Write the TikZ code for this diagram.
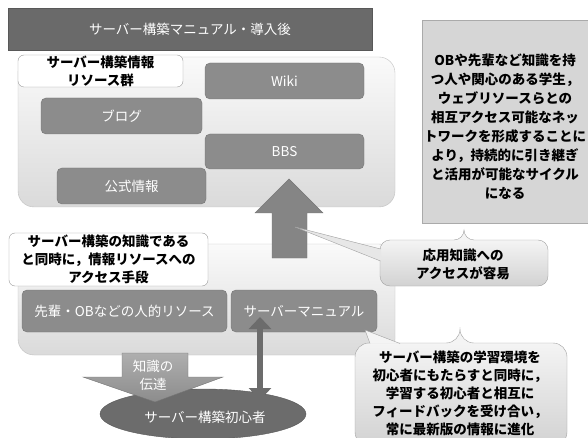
\documentclass[tikz,border=0pt]{standalone}
\usepackage{fontspec}
\setmainfont{Noto Sans CJK JP}
\usetikzlibrary{arrows.meta,shapes.geometric}
\definecolor{titlegray}{HTML}{6A6A6A}
\definecolor{titleborder}{HTML}{585858}
\definecolor{resgray}{HTML}{8C8C8C}
\definecolor{resborder}{HTML}{747474}
\definecolor{paneltop}{HTML}{FAFAFA}
\definecolor{panelbottom}{HTML}{DADADA}
\definecolor{panelborder}{HTML}{C0C0C0}
\definecolor{rightgray}{HTML}{D6D6D6}
\definecolor{rightborder}{HTML}{AAAAAA}
\definecolor{calltop}{HTML}{F4F4F4}
\definecolor{callbottom}{HTML}{D2D2D2}
\definecolor{callborder}{HTML}{A0A0A0}
\definecolor{arrowgray}{HTML}{858585}
\definecolor{arrowborder}{HTML}{777777}
\definecolor{darkgray2}{HTML}{6C6C6C}
\begin{document}
\begin{tikzpicture}[x=1pt,y=-1pt,
  every node/.style={font=\fontsize{13.5}{18}\selectfont, inner sep=0pt, outer sep=0pt},
  dark/.style={font=\fontsize{13.5}{18}\selectfont\bfseries},
  titlebar/.style={draw=titleborder, fill=titlegray, text=white, anchor=north west},
  panel/.style={draw=panelborder, top color=paneltop, bottom color=panelbottom, rounded corners=16pt, anchor=north west},
  res/.style={draw=resborder, fill=resgray, text=white, rounded corners=5pt, anchor=north west},
  lbl/.style={draw=panelborder!80!black, fill=white, rounded corners=6pt, anchor=north west, align=center, dark},
  infobox/.style={draw=rightborder, fill=rightgray, anchor=north west},
  calloutshape/.style={draw=callborder, top color=calltop, bottom color=callbottom},
  blockarrow/.style={draw=arrowborder, fill=arrowgray},
  downarrow/.style={draw=resborder, top color=resgray!70, bottom color=resgray},
  person/.style={ellipse, draw=titleborder, fill=darkgray2, text=white},
  twoway/.style={draw=darkgray2, line width=6pt, {Triangle[width=22pt,length=12pt]}-{Triangle[width=22pt,length=12pt]}}
]
\path[use as bounding box, fill=white] (0,0) rectangle (588,438);

% title
\node[titlebar, minimum width=364, minimum height=42] (title) at (8,8) {サーバー構築マニュアル・導入後};

% upper panel
\node[panel, minimum width=377, minimum height=150] (upper) at (18,57) {};
\node[res, minimum width=159, minimum height=36] (wiki) at (205,63) {Wiki};
\node[res, minimum width=161, minimum height=36] (blog) at (41,98) {ブログ};
\node[res, minimum width=159, minimum height=35] (bbs) at (205,134) {BBS};
\node[res, minimum width=149, minimum height=36] (official) at (57,168) {公式情報};
\node[lbl, minimum width=165, minimum height=32] (lbl1) at (18,55) {サーバー構築情報\\リソース群};

% right info box
\node[infobox, minimum width=170, minimum height=203] (info) at (422,20) {};
\node[align=center, font=\fontsize{13.5}{19}\selectfont\bfseries] (infotext) at (505,127)
  {OBや先輩など知識を持\\つ人や関心のある学生，\\ウェブリソースらとの\\相互アクセス可能なネッ\\トワークを形成することに\\より，持続的に引き継ぎ\\と活用が可能なサイクル\\になる};

% lower panel
\node[panel, minimum width=377, minimum height=111] (lower) at (18,244) {};
\node[res, minimum width=205, minimum height=42] (senpai) at (22,290) {先輩・OBなどの人的リソース};
\node[res, minimum width=146, minimum height=42] (manual) at (231,290) {サーバーマニュアル};
\node[lbl, minimum width=199, minimum height=53] (lbl2) at (9,233) {サーバー構築の知識である\\と同時に，情報リソースへの\\アクセス手段};

% up block arrow
\draw[blockarrow] (272,258) -- (272,213) -- (255,213) -- (289,179) -- (323,213) -- (307,213) -- (307,258) -- cycle;
\coordinate (uptip) at (295,227);

% callout 1
\draw[calloutshape] (464,240) [rounded corners=10pt] -- (548,240) -- (548,286) -- (380,286) -- (380,240) -- (464,240) -- cycle;
\fill[calltop!60!callbottom] (381,249) -- (uptip) -- (381,261) -- cycle;
\draw[callborder] (380.5,249) -- (uptip) -- (380.5,261);
\node[align=center, dark] (c1text) at (463,264) {応用知識への\\アクセスが容易};

% beginner ellipse
\node[person, minimum width=206, minimum height=50] (beginner) at (203,414) {};
\node[text=white] (beginnertext) at (205,417) {サーバー構築初心者};

% down block arrow
\draw[downarrow] (122,353) -- (188,353) -- (188,377) -- (223,377) -- (155,402) -- (83,377) -- (122,377) -- cycle;
\node[text=white, align=center] (transfer) at (153,375) {知識の\\伝達};

% two-way arrow
\coordinate (dtop) at (260,317);
\coordinate (dbot) at (260,400);
\draw[twoway] (dtop) -- (dbot);

% callout 2
\coordinate (mantip) at (365,330);
\draw[calloutshape] (460,343) [rounded corners=14pt] -- (567,343) -- (567,446) -- (355,446) -- (355,343) -- (460,343) -- cycle;
\fill[calltop] (370,343.6) -- (mantip) -- (400,343.6) -- cycle;
\draw[callborder] (370,343.5) -- (mantip) -- (400,343.5);
\node[align=center, dark] (c2) at (460,393) {サーバー構築の学習環境を\\初心者にもたらすと同時に，\\学習する初心者と相互に\\フィードバックを受け合い，\\常に最新版の情報に進化};
\end{tikzpicture}
\end{document}
